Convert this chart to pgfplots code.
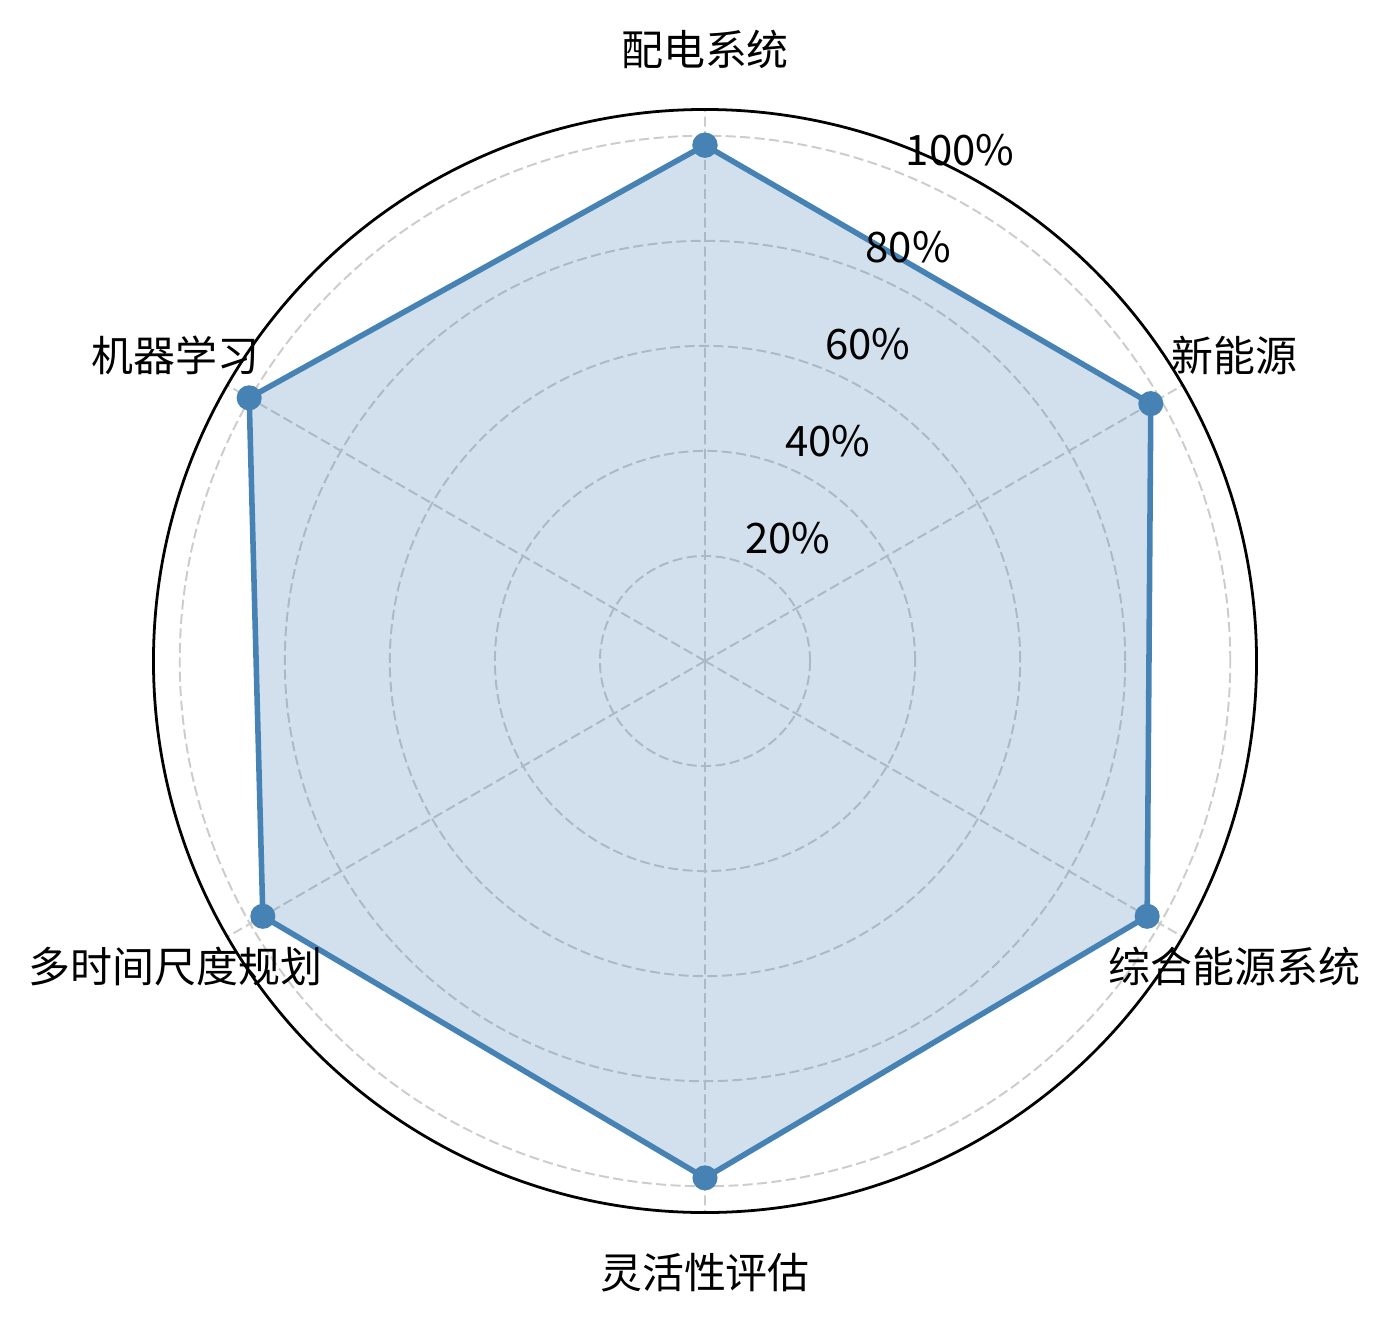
\documentclass[border=0pt]{standalone}
\usepackage{fontspec}
\setmainfont{Noto Sans CJK SC}
\usepackage{pgfplots}
\pgfplotsset{compat=1.18}
\usepgfplotslibrary{polar}
\definecolor{steelblue}{HTML}{4682B4}

\begin{document}
\begin{tikzpicture}[font=\fontsize{15.1pt}{18pt}\selectfont]
\begin{polaraxis}[
    scale only axis,
    width=397.1pt, height=397.1pt,
    ymin=0, ymax=105,
    xtick={30,90,150,210,270,330},
    ytick={20,40,60,80,100},
    xticklabels={,,,,,}, yticklabels={,,,,},
    extra y ticks={105},
    extra y tick labels={},
    extra y tick style={major grid style={solid, black, line width=1pt}},
    major tick length=0pt,
    grid=major,
    major grid style={gray!40, line width=0.7pt, dash pattern=on 3.6pt off 1.6pt},
    axis line style={draw=none},
    clip=false,
]
\coordinate (c) at (axis cs:0,0);

% 配电系统, 新能源, 综合能源系统, 灵活性评估, 多时间尺度规划, 机器学习
\addplot[draw=steelblue, line width=2pt, fill=steelblue, fill opacity=0.25,
    mark=*, mark size=3.5pt, mark options={fill=steelblue, draw=steelblue, fill opacity=1}]
    coordinates {
    (90,98.2) (30,98.0) (-30,97.2) (-90,98.4) (-150,97.2) (150,100.2) (90,98.2)
    };

\node[anchor=base west, xshift=-3.6pt, yshift=3.6pt] at (axis cs:67.5,20) {20\%};
\node[anchor=base west, xshift=-3.6pt, yshift=3.6pt] at (axis cs:67.5,40) {40\%};
\node[anchor=base west, xshift=-3.6pt, yshift=3.6pt] at (axis cs:67.5,60) {60\%};
\node[anchor=base west, xshift=-3.6pt, yshift=3.6pt] at (axis cs:67.5,80) {80\%};
\node[anchor=base west, xshift=-3.6pt, yshift=3.6pt] at (axis cs:67.5,100) {100\%};

\node at (axis cs:90,116.4) {配电系统};
\node at (axis cs:30,116.4) {新能源};
\node at (axis cs:-30,116.4) {综合能源系统};
\node at (axis cs:-90,116.4) {灵活性评估};
\node at (axis cs:-150,116.4) {多时间尺度规划};
\node at (axis cs:150,116.4) {机器学习};
\end{polaraxis}
\path (c) ++(-253.8pt,-238.68pt) rectangle ++(499.32pt,476.64pt);
\end{tikzpicture}
\end{document}
